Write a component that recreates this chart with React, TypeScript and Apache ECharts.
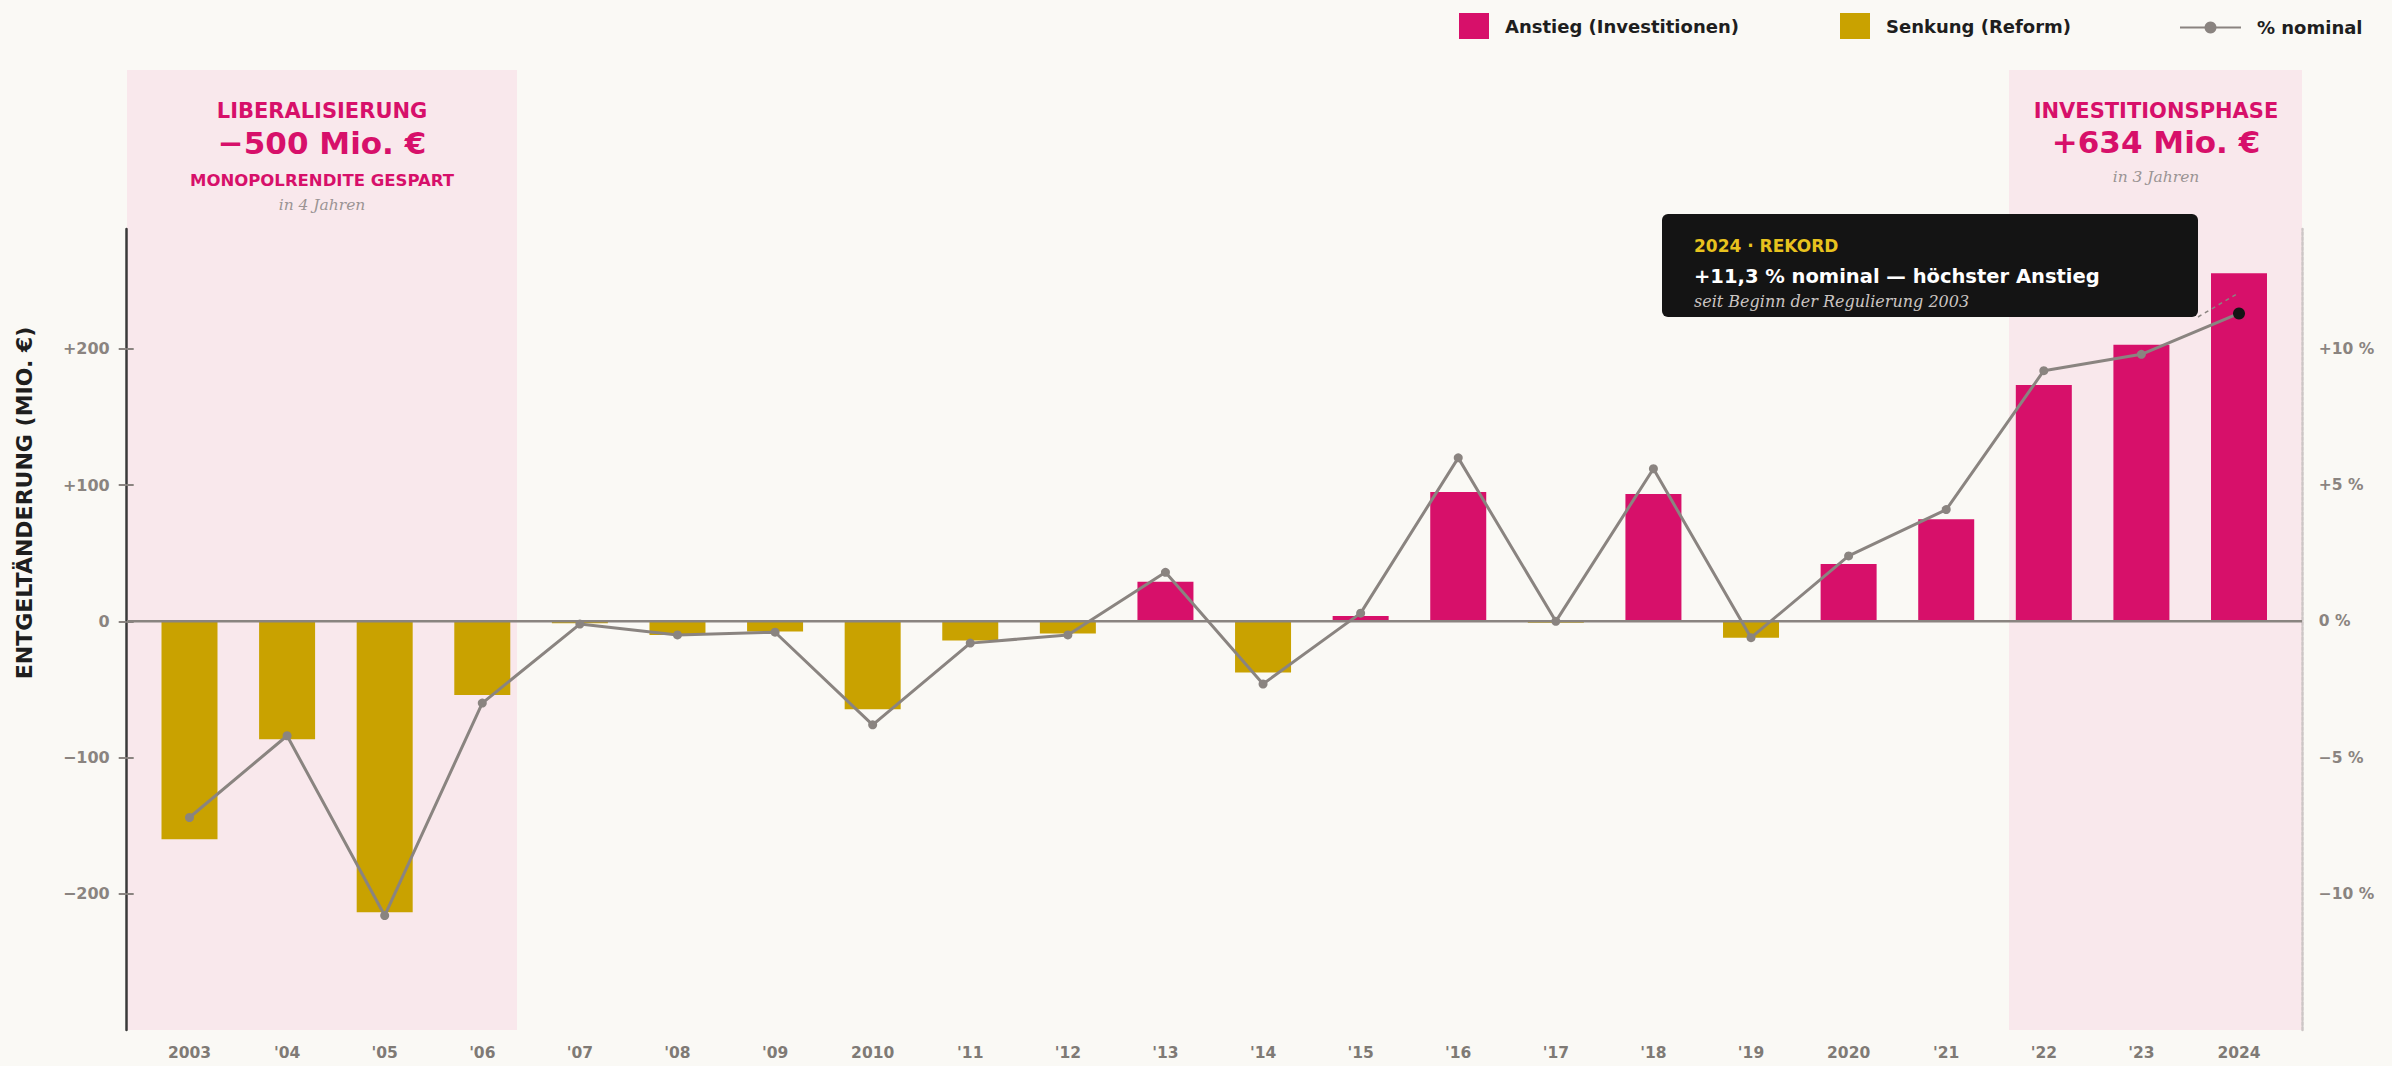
import React, { useEffect, useRef } from 'react';
import * as echarts from 'echarts';

const years = ['2003', "'04", "'05", "'06", "'07", "'08", "'09", '2010', "'11", "'12", "'13", "'14", "'15", "'16", "'17", "'18", "'19", '2020', "'21", "'22", "'23", '2024'];
const changeMio = [-160, -86.5, -213.5, -54, -1.5, -10, -7.5, -64.5, -14, -9, 29, -37.5, 4, 95, -1, 93.5, -12, 42, 75, 173.5, 203, 255.5];
const pctNominal = [-7.2, -4.2, -10.8, -3.0, -0.1, -0.5, -0.4, -3.8, -0.8, -0.5, 1.8, -2.3, 0.3, 6.0, 0.0, 5.6, -0.6, 2.4, 4.1, 9.2, 9.8, 11.3];
const leftTicks = [-200, -100, 0, 100, 200];
const rightTicks = [-10, -5, 0, 5, 10];
const legendNames = ['Anstieg (Investitionen)', 'Senkung (Reform)', '% nominal'];

const PINK = '#d7106a';
const GOLD = '#c9a200';
const GRAY = '#8a8480';
const BG = '#faf9f5';
const SHADE = '#f9e8ec';
const SANS = '"DejaVu Sans"';
const SERIF = '"DejaVu Serif"';

const signed = (v: number) => (v > 0 ? '+' + v : v < 0 ? '\u2212' + Math.abs(v) : '0');

function txt(text: string, x: number, y: number, font: string, fill: string, align = 'center', z = 4, rotation = 0) {
  return {
    type: 'text', x, y, z, rotation,
    style: { text, font, fill, align, textAlign: align, verticalAlign: 'middle', textVerticalAlign: 'middle' },
  };
}

export default function App() {
  const ref = useRef<HTMLDivElement>(null);
  useEffect(() => {
    document.body.style.margin = '0';
    document.body.style.background = BG;
    const chart = echarts.init(ref.current!, null, { renderer: 'svg' });
    const last = pctNominal.length - 1;
    const legendText = { fontFamily: SANS, fontWeight: 'bold', fontSize: 18, color: '#1e1e1e', padding: [0, 0, 0, 11] };
    const tickLabel = { fontFamily: SANS, fontWeight: 'bold', fontSize: 15.5, color: '#8a8480' };
    const option: any = {
      animation: false,
      backgroundColor: BG,
      grid: { left: 140.7, right: 104.2, top: 229, bottom: 36 },
      legend: [
        { data: [legendNames[0]], left: 1454, top: 8, itemWidth: 30, itemHeight: 26, icon: 'rect', selectedMode: false, textStyle: legendText },
        { data: [legendNames[1]], left: 1835, top: 8, itemWidth: 30, itemHeight: 26, icon: 'rect', selectedMode: false, textStyle: legendText },
        { data: [legendNames[2]], left: 2174, top: 13.5, itemWidth: 61, itemHeight: 15, selectedMode: false, textStyle: legendText },
      ],
      xAxis: {
        type: 'category',
        data: years,
        axisLine: { show: false, onZero: false },
        axisTick: { show: false },
        axisLabel: { ...tickLabel, color: '#7f7a75', margin: 15, interval: 0 },
      },
      yAxis: [
        {
          type: 'value', min: -300, max: 288, interval: 100, position: 'left', offset: 14,
          splitLine: { show: false },
          axisLine: { show: true, onZero: false, lineStyle: { color: '#3a3a3a', width: 2.5 } },
          axisTick: { show: true, length: 8, customValues: leftTicks, lineStyle: { color: '#8a8480', width: 2 } },
          axisLabel: { ...tickLabel, fontSize: 16, margin: 17, customValues: leftTicks, formatter: (v: number) => (leftTicks.includes(v) ? signed(v) : '') },
        },
        {
          type: 'value', min: -15, max: 14.4, interval: 5, position: 'right', offset: 14,
          splitLine: { show: false },
          axisLine: { show: true, onZero: false, lineStyle: { color: '#cdc6c6', width: 2.5, type: [3, 2] } },
          axisTick: { show: false },
          axisLabel: { ...tickLabel, margin: 17, customValues: rightTicks, formatter: (v: number) => (rightTicks.includes(v) ? signed(v) + ' %' : '') },
        },
        {
          type: 'value', min: -300, max: 288, interval: 100, position: 'left', offset: 14,
          splitLine: { show: false },
          axisLine: { show: false },
          axisLabel: { show: false },
          axisTick: { show: true, inside: true, length: 7, customValues: leftTicks, lineStyle: { color: '#8a8480', width: 2 } },
        },
      ],
      series: [
        {
          name: legendNames[0], type: 'bar', stack: 's', barWidth: 56, yAxisIndex: 0, z: 2,
          itemStyle: { color: PINK },
          data: changeMio.map((v) => (v > 0 ? v : '-')),
        },
        {
          name: legendNames[1], type: 'bar', stack: 's', barWidth: 56, yAxisIndex: 0, z: 2,
          itemStyle: { color: GOLD },
          data: changeMio.map((v) => (v < 0 ? v : '-')),
        },
        {
          name: legendNames[2], type: 'line', yAxisIndex: 1, z: 5,
          symbol: 'circle', symbolSize: 9, showAllSymbol: true,
          lineStyle: { color: GRAY, width: 3 },
          itemStyle: { color: GRAY },
          data: pctNominal.map((v, i) => (i === last ? { value: v, symbolSize: 12, itemStyle: { color: '#141414' } } : v)),
        },
      ],
    };
    chart.setOption(option);

    const zeroY = chart.convertToPixel({ yAxisIndex: 0 }, 0) as number;
    const pt = chart.convertToPixel({ seriesIndex: 2 }, [last, pctNominal[last]]) as number[];

    const graphic: any[] = [
      { type: 'rect', z: -1, silent: true, shape: { x: 127, y: 70, width: 390, height: 960 }, style: { fill: SHADE } },
      { type: 'rect', z: -1, silent: true, shape: { x: 2009, y: 70, width: 293, height: 960 }, style: { fill: SHADE } },
      { type: 'line', z: 3, silent: true, shape: { x1: 127, y1: zeroY, x2: 2302, y2: zeroY }, style: { stroke: GRAY, lineWidth: 2.5 } },
      txt('LIBERALISIERUNG', 322, 111, `bold 21px ${SANS}`, PINK),
      txt('\u2212500 Mio. \u20ac', 322, 143, `bold 31px ${SANS}`, PINK),
      txt('MONOPOLRENDITE GESPART', 322, 180, `bold 16.5px ${SANS}`, PINK),
      txt('in 4 Jahren', 322, 205, `italic 15.5px ${SERIF}`, '#9b9494'),
      txt('INVESTITIONSPHASE', 2156, 111, `bold 21px ${SANS}`, PINK),
      txt('+634 Mio. \u20ac', 2156, 142, `bold 31px ${SANS}`, PINK),
      txt('in 3 Jahren', 2156, 177, `italic 15.5px ${SERIF}`, '#9b9494'),
      txt('ENTGELT\u00c4NDERUNG (MIO. \u20ac)', 24, 503, `bold 22px ${SANS}`, '#1e1e1e', 'center', 4, Math.PI / 2),
      {
        type: 'line', z: 9, silent: true,
        shape: { x1: 2198, y1: 317, x2: pt[0] - 3, y2: pt[1] - 19 },
        style: { stroke: '#8a8480', lineWidth: 1.5, lineDash: [4, 4] },
      },
      { type: 'rect', z: 10, silent: true, shape: { x: 1662, y: 214, width: 536, height: 103, r: 6 }, style: { fill: '#141414' } },
      txt('2024 \u00b7 REKORD', 1694, 246, `bold 17px ${SANS}`, '#e8c21e', 'left', 11),
      txt('+11,3 % nominal \u2014 h\u00f6chster Anstieg', 1694, 276, `bold 19.5px ${SANS}`, '#ffffff', 'left', 11),
      txt('seit Beginn der Regulierung 2003', 1694, 301, `italic 16px ${SERIF}`, '#cbc5c2', 'left', 11),
    ];
    chart.setOption({ graphic });
    return () => chart.dispose();
  }, []);
  return <div ref={ref} style={{ position: 'fixed', left: 0, top: 0, width: 2392, height: 1066, background: BG }} />;
}
